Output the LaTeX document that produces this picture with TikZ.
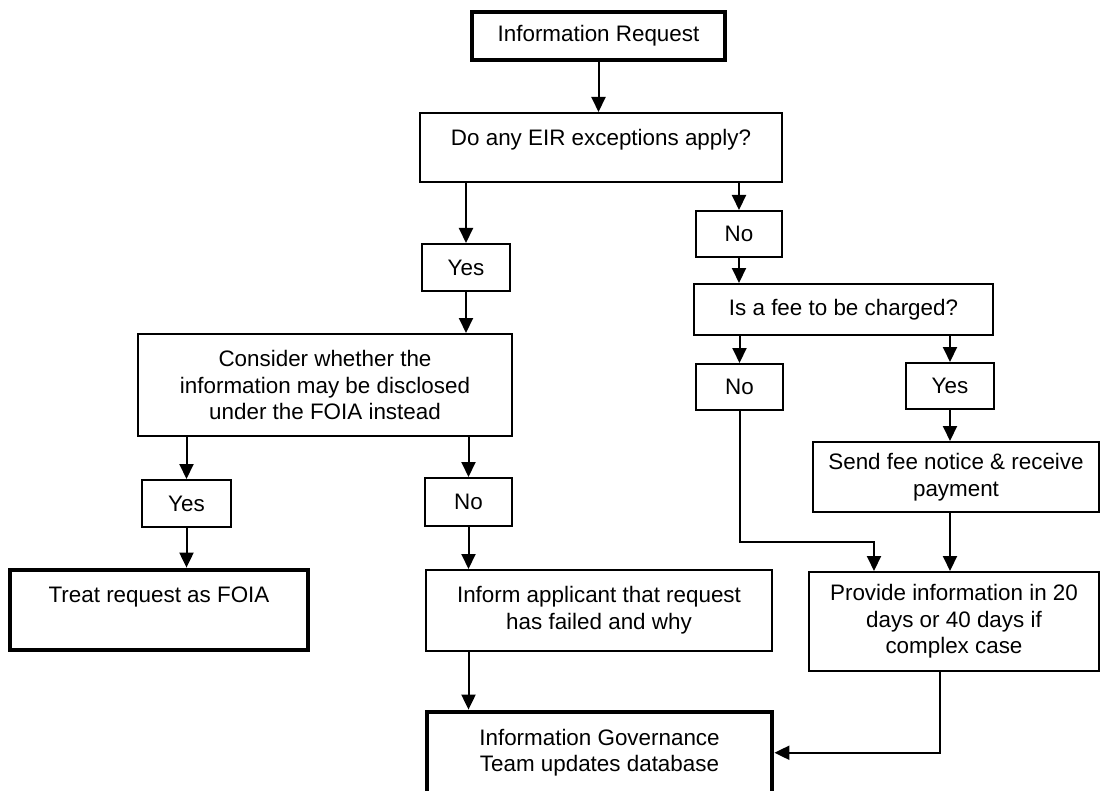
\documentclass[tikz,border=0pt]{standalone}
\usepackage{fontspec}
\setmainfont{Liberation Sans}
\usetikzlibrary{arrows.meta,calc}
\begin{document}
\begin{tikzpicture}[x=0.5pt,y=-0.5pt,
  font=\fontsize{11.2pt}{13.3pt}\selectfont,
  box/.style={draw,line width=1pt,align=center,inner sep=0pt},
  heavybox/.style={box,line width=2.4pt},
  flow/.style={line width=1pt,-{Triangle[length=7.5pt,width=7pt]}}]
\useasboundingbox (0,0) rectangle (1102,791);

% decision chain
\node[heavybox,minimum width=126.5pt,minimum height=24pt] (info) at (598.5,36) {Information Request};
\node[box,minimum width=181pt,minimum height=34.5pt,text height=8pt,text depth=9.7pt] (eir) at (601,147.5) {Do any EIR exceptions apply?};
\node[box,minimum width=44pt,minimum height=23.5pt] (yes1) at (466,267.5) {Yes};
\node[box,minimum width=43pt,minimum height=23pt] (no1) at (739,234) {No};

% left branch
\node[box,minimum width=187pt,minimum height=51pt] (cons) at (325,385) {Consider whether the\\information may be disclosed\\under the FOIA instead};
\node[box,minimum width=44.5pt,minimum height=23.5pt] (yes2) at (186.5,503.5) {Yes};
\node[box,minimum width=43.5pt,minimum height=24pt] (nol) at (468.5,502) {No};
\node[heavybox,minimum width=149pt,minimum height=40pt,text height=8pt,text depth=15.2pt] (treat) at (159,610) {Treat request as FOIA};
\node[box,minimum width=173pt,minimum height=40.5pt] (inform) at (599,610.5) {Inform applicant that request\\has failed and why};

% fee branch
\node[box,minimum width=149.5pt,minimum height=25.5pt] (fee) at (843.5,309.5) {Is a fee to be charged?};
\node[box,minimum width=43.5pt,minimum height=23pt] (no2r) at (739.5,387) {No};
\node[box,minimum width=44pt,minimum height=23pt] (yes2r) at (950,386) {Yes};
\node[box,minimum width=143pt,minimum height=35pt] (send) at (956,477) {Send fee notice \& receive\\payment};
\node[box,minimum width=145pt,minimum height=49.5pt] (prov) at (954,621.5) {Provide information in 20\\days or 40 days if\\complex case};

% end point
\node[heavybox,minimum width=172.5pt,minimum height=40.75pt] (ig) at (599.5,752.75) {Information Governance\\Team updates database};

\coordinate (nobend) at (874,542);

% connectors
\draw[flow] (info.south) -- (info.south |- eir.north);
\draw[flow] (yes1.north |- eir.south) -- (yes1.north);
\draw[flow] (no1.north |- eir.south) -- (no1.north);
\draw[flow] (yes1.south) -- (yes1.south |- cons.north);
\draw[flow] (yes2.north |- cons.south) -- (yes2.north);
\draw[flow] (nol.north |- cons.south) -- (nol.north);
\draw[flow] (yes2.south) -- (yes2.south |- treat.north);
\draw[flow] (nol.south) -- (nol.south |- inform.north);
\draw[flow] (nol.south |- inform.south) -- (nol.south |- ig.north);
\draw[flow] (no1.south) -- (no1.south |- fee.north);
\draw[flow] (no2r.north |- fee.south) -- (no2r.north);
\draw[flow] (yes2r.north |- fee.south) -- (yes2r.north);
\draw[flow] (yes2r.south) -- (yes2r.south |- send.north);
\draw[flow] (yes2r.south |- send.south) -- (yes2r.south |- prov.north);
\draw[flow] (no2r.south) |- (nobend) -- (nobend |- prov.north);
\draw[flow] ($(prov.south)+(-14,0)$) |- (ig.east);
\end{tikzpicture}
\end{document}
